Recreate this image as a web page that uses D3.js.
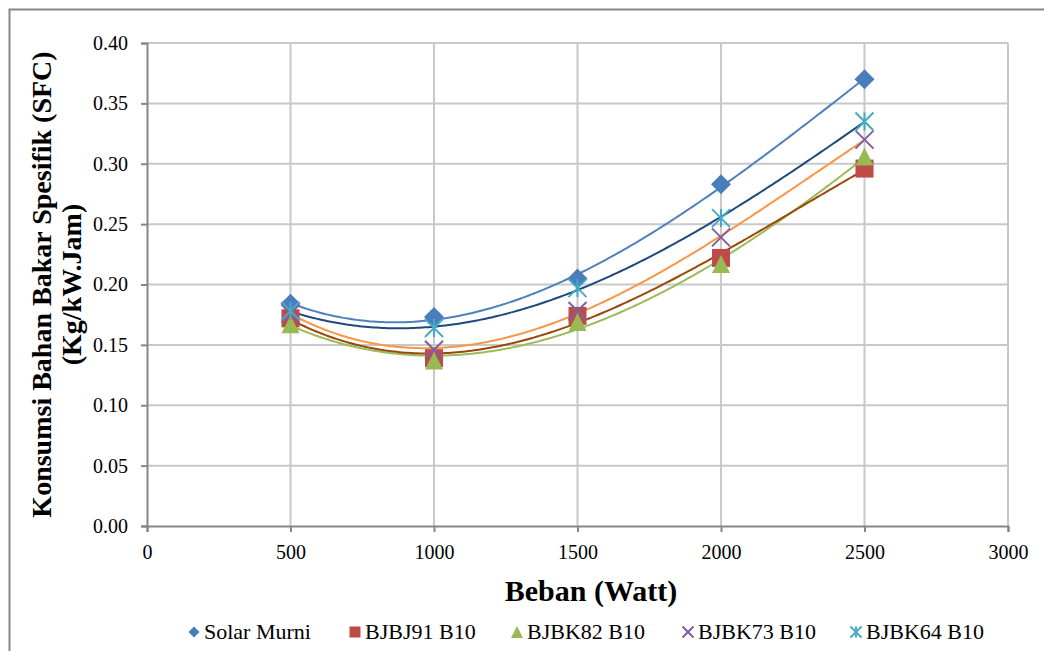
<!DOCTYPE html>
<html>
<head>
<meta charset="utf-8">
<script src="https://cdn.jsdelivr.net/npm/d3@7"></script>
<style>
  body { margin: 0; background: #fff; }
  svg { display: block; font-family: "Liberation Serif", "Times New Roman", serif; }
</style>
</head>
<body>
<div id="chart"></div>
<script>
const beban = [500, 1000, 1500, 2000, 2500];
const seriesNames = ["Solar Murni", "BJBJ91 B10", "BJBK82 B10", "BJBK73 B10", "BJBK64 B10"];
const solarMurni = [0.184, 0.173, 0.205, 0.283, 0.370];
const bjbj91 = [0.172, 0.139, 0.174, 0.222, 0.296];
const bjbk82 = [0.167, 0.137, 0.169, 0.217, 0.306];
const bjbk73 = [0.176, 0.146, 0.178, 0.239, 0.320];
const bjbk64 = [0.178, 0.164, 0.197, 0.255, 0.335];
const xTicks = [0, 500, 1000, 1500, 2000, 2500, 3000];
const yTicks = [0, 0.05, 0.10, 0.15, 0.20, 0.25, 0.30, 0.35, 0.40];

const allValues = [solarMurni, bjbj91, bjbk82, bjbk73, bjbk64];
const markerColors = ["#4a7ebb", "#be4b48", "#98b954", "#7d60a0", "#46aac5"];
const trendColors = ["#4f81bd", "#984807", "#9bbb59", "#f79646", "#1f497d"];
const shapes = ["diamond", "square", "triangle", "x", "star"];

const width = 1044, height = 651;

const svg = d3.select("#chart").append("svg")
  .attr("width", width).attr("height", height);

// outer chart frame
svg.append("rect")
  .attr("x", 9.5).attr("y", 9.5)
  .attr("width", 1100).attr("height", 700)
  .attr("fill", "none").attr("stroke", "#868686").attr("stroke-width", 2);

const x = d3.scaleLinear().domain([0, 3000]).range([147, 1008]);
const y = d3.scaleLinear().domain([0, 0.4]).range([526, 43]);

// gridlines
svg.append("g").selectAll("line").data(yTicks.slice(1)).join("line")
  .attr("x1", x(0)).attr("x2", x(3000))
  .attr("y1", d => y(d)).attr("y2", d => y(d))
  .attr("stroke", "#c8c8c8").attr("stroke-width", 2);
svg.append("g").selectAll("line").data(xTicks.slice(1)).join("line")
  .attr("x1", d => x(d)).attr("x2", d => x(d))
  .attr("y1", y(0)).attr("y2", y(0.4))
  .attr("stroke", "#c8c8c8").attr("stroke-width", 2);

// axes
const xAxis = svg.append("g")
  .attr("transform", `translate(0,${y(0)})`)
  .call(d3.axisBottom(x).tickValues(xTicks).tickSize(6).tickPadding(13).tickFormat(d3.format("d")));
const yAxis = svg.append("g")
  .attr("transform", `translate(${x(0)},0)`)
  .call(d3.axisLeft(y).tickValues(yTicks).tickSize(6).tickPadding(13).tickFormat(d3.format(".2f")));
[xAxis, yAxis].forEach(a => {
  a.select(".domain").attr("stroke", "#868686").attr("stroke-width", 2);
  a.selectAll(".tick line").attr("stroke", "#868686").attr("stroke-width", 2);
  a.selectAll("text").attr("font-size", 20).attr("fill", "#000")
    .attr("font-family", "Liberation Serif, serif");
});

// polynomial least-squares trendline
function polyFit(xs, ys, deg) {
  const n = deg + 1;
  const A = d3.range(n).map(r => d3.range(n + 1).map(() => 0));
  xs.forEach((xv, i) => {
    const u = xv / 1000;
    for (let r = 0; r < n; r++) {
      for (let c = 0; c < n; c++) A[r][c] += Math.pow(u, r + c);
      A[r][n] += Math.pow(u, r) * ys[i];
    }
  });
  for (let i = 0; i < n; i++) {
    for (let j = i + 1; j < n; j++) {
      const f = A[j][i] / A[i][i];
      for (let k = i; k <= n; k++) A[j][k] -= f * A[i][k];
    }
  }
  const coef = new Array(n).fill(0);
  for (let i = n - 1; i >= 0; i--) {
    let v = A[i][n];
    for (let k = i + 1; k < n; k++) v -= A[i][k] * coef[k];
    coef[i] = v / A[i][i];
  }
  return xv => coef.reduce((s, c, k) => s + c * Math.pow(xv / 1000, k), 0);
}

const line = d3.line().x(d => x(d[0])).y(d => y(d[1]));
const trendOrder = [0, 4, 3, 2, 1];
trendOrder.forEach(i => {
  const f = polyFit(beban, allValues[i], 3);
  const pts = d3.range(500, 2501, 10).map(v => [v, f(v)]);
  svg.append("path").datum(pts)
    .attr("d", line).attr("fill", "none")
    .attr("stroke", trendColors[i]).attr("stroke-width", 2);
});

function drawMarker(g, shape, color, size) {
  const h = size / 2;
  if (shape === "diamond") {
    g.append("path").attr("d", `M0,${-h}L${h},0L0,${h}L${-h},0Z`).attr("fill", color);
  } else if (shape === "square") {
    g.append("rect").attr("x", -h).attr("y", -h).attr("width", size).attr("height", size).attr("fill", color);
  } else if (shape === "triangle") {
    g.append("path").attr("d", `M0,${-h}L${h},${h}L${-h},${h}Z`).attr("fill", color);
  } else if (shape === "x") {
    g.append("path").attr("d", `M${-h},${-h}L${h},${h}M${h},${-h}L${-h},${h}`)
      .attr("stroke", color).attr("stroke-width", 2).attr("fill", "none");
  } else {
    g.append("path").attr("d", `M${-h},${-h}L${h},${h}M${h},${-h}L${-h},${h}M0,${-h}L0,${h}`)
      .attr("stroke", color).attr("stroke-width", 2).attr("fill", "none");
  }
}

// markers, drawn in series order
allValues.forEach((vals, i) => {
  vals.forEach((v, j) => {
    const g = svg.append("g").attr("transform", `translate(${x(beban[j])},${y(v)})`);
    drawMarker(g, shapes[i], markerColors[i], i === 0 ? 20 : 18);
  });
});

// axis titles
svg.append("text")
  .attr("x", 591).attr("y", 601)
  .attr("text-anchor", "middle").attr("font-weight", "bold").attr("font-size", 30)
  .text("Beban (Watt)");

const yTitle = svg.append("text")
  .attr("transform", `translate(51,${(y(0) + y(0.4)) / 2}) rotate(-90)`)
  .attr("text-anchor", "middle").attr("font-weight", "bold").attr("font-size", 28);
yTitle.append("tspan").attr("x", 0).attr("dy", 0).text("Konsumsi Bahan Bakar Spesifik (SFC)");
yTitle.append("tspan").attr("x", 0).attr("dy", 30).text("(Kg/kW.Jam)");

// legend
const legendX = [194, 355, 517, 688, 856];
const legend = svg.append("g").attr("font-size", 22);
seriesNames.forEach((name, i) => {
  const g = legend.append("g").attr("transform", `translate(${legendX[i]},632)`);
  drawMarker(g, shapes[i], markerColors[i], i === 2 ? 12 : 11);
  g.append("text").attr("x", 10).attr("y", 7).text(name);
});
</script>
</body>
</html>
